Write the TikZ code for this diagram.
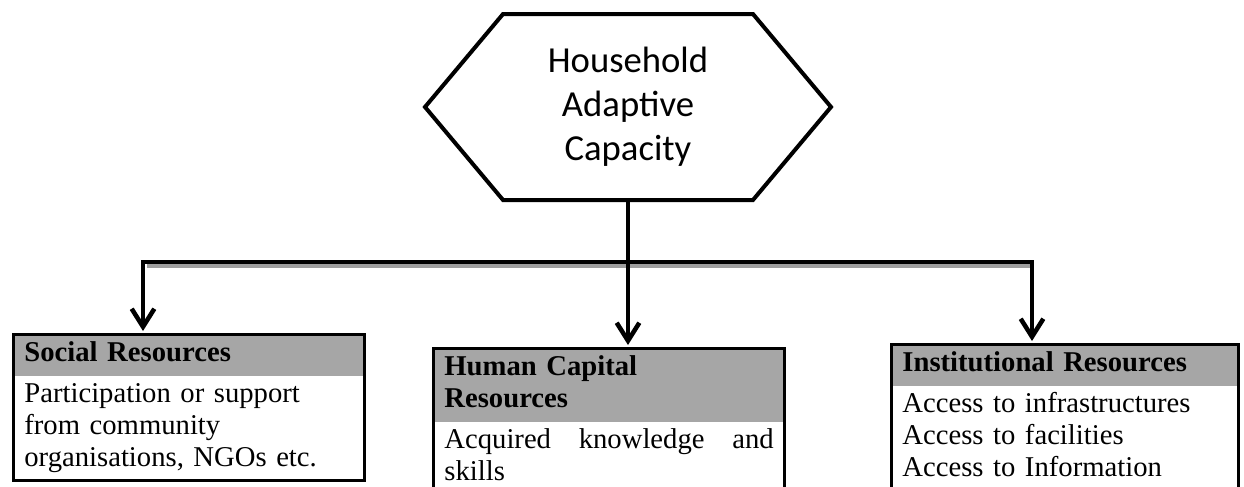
\documentclass[tikz,border=0pt]{standalone}
\usepackage{fontspec}
\setmainfont{Liberation Serif}
\newfontfamily\calibri{Carlito}
\usepackage{tikz}
\usetikzlibrary{positioning,calc,arrows.meta}
\usetikzlibrary{shapes.multipart,shapes.symbols}
\definecolor{hdrgray}{RGB}{166,166,166}
\definecolor{shadegray}{RGB}{158,158,158}

\begin{document}
\begin{tikzpicture}[x = 0.75pt, y = -0.75pt,
                    hexa/.style     = {signal,
                                       signal to = west and east,
                                       signal pointer angle = 100,
                                       draw,
                                       line width = 3pt,
                                       minimum width = 304.5pt,
                                       minimum height = 139.5pt,
                                       align = center,
                                       font = \calibri\fontsize{27.5}{33}\selectfont},
                    res/.style      = {rectangle split,
                                       rectangle split parts = 2,
                                       rectangle split draw splits = false,
                                       rectangle split part fill = {hdrgray, white},
                                       draw,
                                       line width = 2.6pt,
                                       anchor = north west,
                                       text width = 247pt,
                                       inner xsep = 8pt,
                                       inner ysep = 2pt,
                                       align = left,
                                       font = \fontsize{21.5}{24}\selectfont},
                    link/.style     = {line width = 3.4pt,
                                       -{Straight Barb[length = 13.5pt, width = 17pt]},
                                       shorten > = 1.5pt},
                    busshade/.style = {draw = shadegray, line width = 3pt}]

\useasboundingbox (0,0) rectangle (1244,486);

\node[hexa] (HH) at (628,107) {Household\\Adaptive\\Capacity};

\node[res] (SR) at (12,333)
  {\strut\textbf{Social Resources}
   \nodepart{two}\strut Participation or support\\from community\\organisations, NGOs etc.\strut};
\node[res] (HC) at (432,347)
  {\strut\textbf{Human Capital}\\\textbf{Resources}\strut
   \nodepart{two}\strut Acquired\hfill knowledge\hfill and\\skills\strut\\[20pt]};
\node[res, text width = 244pt] (IR) at (890,343)
  {\strut\textbf{Institutional Resources}
   \nodepart{two}\strut Access to infrastructures\\Access to facilities\\Access to Information\strut};

\coordinate (L) at (143,262);
\coordinate (R) at (1032,262);

\draw[busshade] ($(L)+(4,4)$) -- ($(R)+(-2,4)$);

\draw[link] (HH.south) -- (HH.south |- HC.north);
\draw[link] (HH.south |- L) -- (L) -- (L |- SR.north);
\draw[link] (HH.south |- L) -- (R) -- (R |- IR.north);

\end{tikzpicture}
\end{document}
